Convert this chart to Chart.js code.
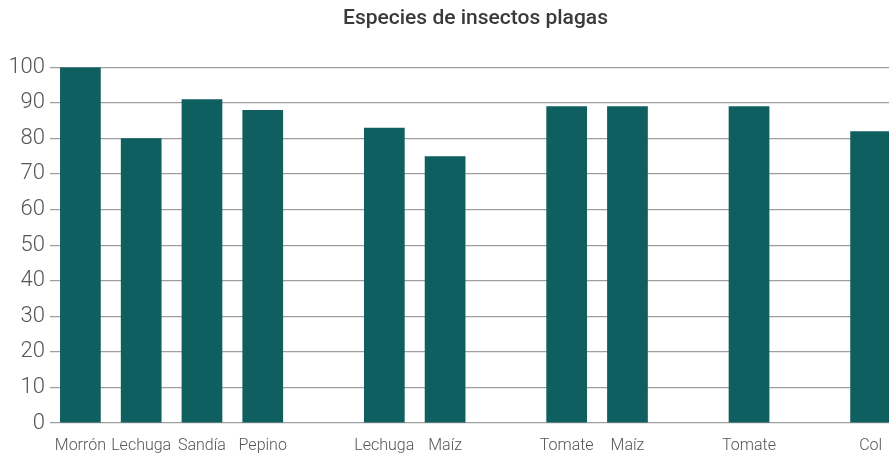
<!DOCTYPE html>
<html>
<head>
<meta charset="utf-8">
<script src="https://cdn.jsdelivr.net/npm/chart.js@4"></script>
<style>
  html, body { margin: 0; padding: 0; background: #fff; overflow: hidden; }
  /* el área del gráfico sigue un poco más allá del borde derecho: la última barra queda cortada */
  #wrap { width: 889px; height: 454px; overflow: hidden; }
</style>
</head>
<body>
<div id="wrap"><canvas id="grafico" width="901" height="454"></canvas></div>
<script>
// Categorías (los huecos vacíos separan los grupos)
const categorias = ["Morrón", "Lechuga", "Sandía", "Pepino", "", "Lechuga", "Maíz", "", "Tomate", "Maíz", "", "Tomate", "", "Col"];
const valores = [100, 80, 91, 88, null, 83, 75, null, 89, 89, null, 89, null, 82];
const ticksY = [0, 10, 20, 30, 40, 50, 60, 70, 80, 90, 100];

const ctx = document.getElementById('grafico').getContext('2d');

new Chart(ctx, {
  type: 'bar',
  data: {
    labels: categorias,
    datasets: [{
      data: valores,
      backgroundColor: '#0f5f61',
      borderWidth: 0,
      categoryPercentage: 1,
      barPercentage: 0.67
    }]
  },
  options: {
    responsive: false,
    animation: false,
    layout: { padding: { top: 6, right: 0, bottom: 0, left: 0 } },
    plugins: {
      legend: { display: false },
      tooltip: { enabled: false },
      title: {
        display: true,
        text: 'Especies de insectos plagas',
        fullSize: false,
        color: '#3a3a3a',
        font: { family: 'Roboto', size: 21, weight: '500' },
        padding: { top: 0, bottom: 36 }
      }
    },
    scales: {
      x: {
        grid: { display: false },
        border: { display: false },
        ticks: {
          autoSkip: false,
          maxRotation: 0,
          color: '#555',
          padding: 5,
          font: { family: 'Roboto', size: 16, weight: '300' }
        },
        afterFit: (scale) => {
          scale.height = 31;
          scale.paddingLeft = 0;
          scale.paddingRight = 0;
        }
      },
      y: {
        min: ticksY[0],
        max: ticksY[ticksY.length - 1],
        afterBuildTicks: (scale) => { scale.ticks = ticksY.map(v => ({ value: v })); },
        grid: { color: '#9e9e9e', lineWidth: 1.2, drawTicks: false },
        border: { display: false },
        ticks: {
          color: '#555',
          padding: 5,
          font: { family: 'Roboto', size: 22, weight: '300' }
        },
        afterFit: (scale) => { scale.width = 50; }
      }
    }
  }
});
</script>
</body>
</html>
